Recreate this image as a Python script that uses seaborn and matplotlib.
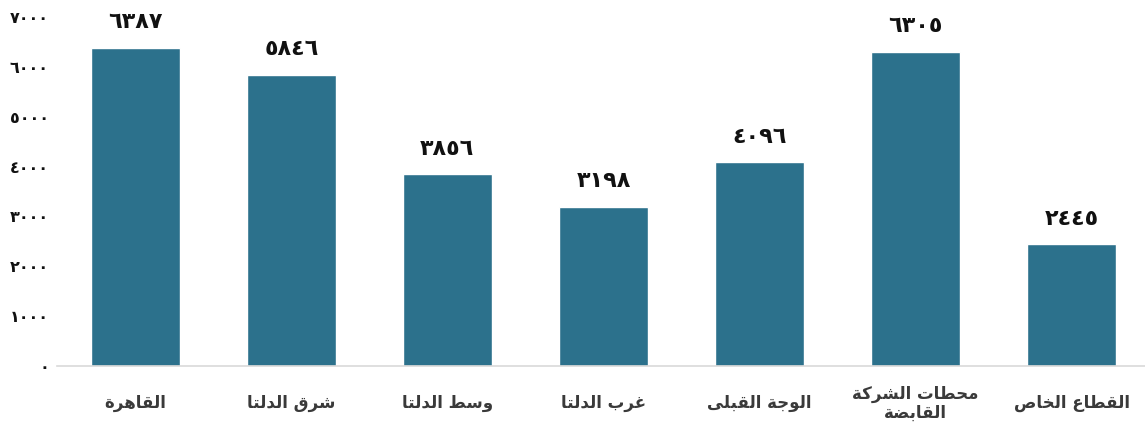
import pandas as pd
import seaborn as sns
import matplotlib.pyplot as plt

regions = ["القاهرة", "شرق الدلتا", "وسط الدلتا", "غرب الدلتا",
           "الوجة القبلى", "محطات الشركة\nالقابضة", "القطاع الخاص"]
capacity = [6387, 5846, 3856, 3198, 4096, 6305, 2445]
y_ticks = [0, 1000, 2000, 3000, 4000, 5000, 6000, 7000]

# Arabic presentation forms: isolated, final, initial, medial
FORMS = {
    "ا": ("\uFE8D", "\uFE8E", None, None),
    "ب": ("\uFE8F", "\uFE90", "\uFE91", "\uFE92"),
    "ة": ("\uFE93", "\uFE94", None, None),
    "ت": ("\uFE95", "\uFE96", "\uFE97", "\uFE98"),
    "ج": ("\uFE9D", "\uFE9E", "\uFE9F", "\uFEA0"),
    "ح": ("\uFEA1", "\uFEA2", "\uFEA3", "\uFEA4"),
    "خ": ("\uFEA5", "\uFEA6", "\uFEA7", "\uFEA8"),
    "د": ("\uFEA9", "\uFEAA", None, None),
    "ر": ("\uFEAD", "\uFEAE", None, None),
    "س": ("\uFEB1", "\uFEB2", "\uFEB3", "\uFEB4"),
    "ش": ("\uFEB5", "\uFEB6", "\uFEB7", "\uFEB8"),
    "ص": ("\uFEB9", "\uFEBA", "\uFEBB", "\uFEBC"),
    "ض": ("\uFEBD", "\uFEBE", "\uFEBF", "\uFEC0"),
    "ط": ("\uFEC1", "\uFEC2", "\uFEC3", "\uFEC4"),
    "ع": ("\uFEC9", "\uFECA", "\uFECB", "\uFECC"),
    "غ": ("\uFECD", "\uFECE", "\uFECF", "\uFED0"),
    "ق": ("\uFED5", "\uFED6", "\uFED7", "\uFED8"),
    "ك": ("\uFED9", "\uFEDA", "\uFEDB", "\uFEDC"),
    "ل": ("\uFEDD", "\uFEDE", "\uFEDF", "\uFEE0"),
    "م": ("\uFEE1", "\uFEE2", "\uFEE3", "\uFEE4"),
    "ه": ("\uFEE9", "\uFEEA", "\uFEEB", "\uFEEC"),
    "و": ("\uFEED", "\uFEEE", None, None),
    "ى": ("\uFEEF", "\uFEF0", None, None),
}


def joins_next(c):
    return c in FORMS and FORMS[c][2] is not None


def shape_line(s):
    out = []
    for i, c in enumerate(s):
        if c not in FORMS:
            out.append(c)
            continue
        prev = s[i - 1] if i > 0 else ""
        nxt = s[i + 1] if i + 1 < len(s) else ""
        iso, fin, ini, med = FORMS[c]
        left = joins_next(prev)
        right = nxt in FORMS and ini is not None
        if left and right:
            out.append(med)
        elif left:
            out.append(fin)
        elif right:
            out.append(ini)
        else:
            out.append(iso)
    return "".join(out)[::-1]


def shape(s):
    return "\n".join(shape_line(line) for line in s.split("\n"))


def arabic_digits(n):
    return str(n).translate(str.maketrans("0123456789", "٠١٢٣٤٥٦٧٨٩"))


df = pd.DataFrame({"region": [shape(r) for r in regions], "capacity": capacity})

sns.set_theme(style="white")
plt.rcParams["font.family"] = ["DejaVu Sans"]

fig = plt.figure(figsize=(11.45, 4.28), dpi=100)
ax = fig.add_axes([0.05, 0.145, 0.95, 0.815])

sns.barplot(data=df, x="region", y="capacity", color="#2c718c",
            width=0.57, saturation=1, ax=ax)

ax.bar_label(ax.containers[0], labels=[arabic_digits(v) for v in capacity],
             padding=11, fontsize=16, fontweight="bold", color="#111111")

ax.set_ylim(0, 7000)
ax.set_xlim(-0.5, 6.47)
ax.set_yticks(y_ticks)
ax.set_yticklabels([arabic_digits(v) for v in y_ticks], fontsize=11.5,
                   fontweight="bold", color="#111111")
ax.tick_params(axis="y", length=0, pad=6)
ax.tick_params(axis="x", length=0, pad=27)
for lbl in ax.get_xticklabels():
    lbl.set_fontsize(12)
    lbl.set_fontweight("bold")
    lbl.set_color("#3a3a3a")
    lbl.set_verticalalignment("center")
    lbl.set_linespacing(1.05)

ax.set_xlabel("")
ax.set_ylabel("")
for side in ["top", "right", "left"]:
    ax.spines[side].set_visible(False)
ax.spines["bottom"].set_color("#d9d9d9")
ax.spines["bottom"].set_linewidth(1.2)

fig.savefig("out.png", dpi=100)
